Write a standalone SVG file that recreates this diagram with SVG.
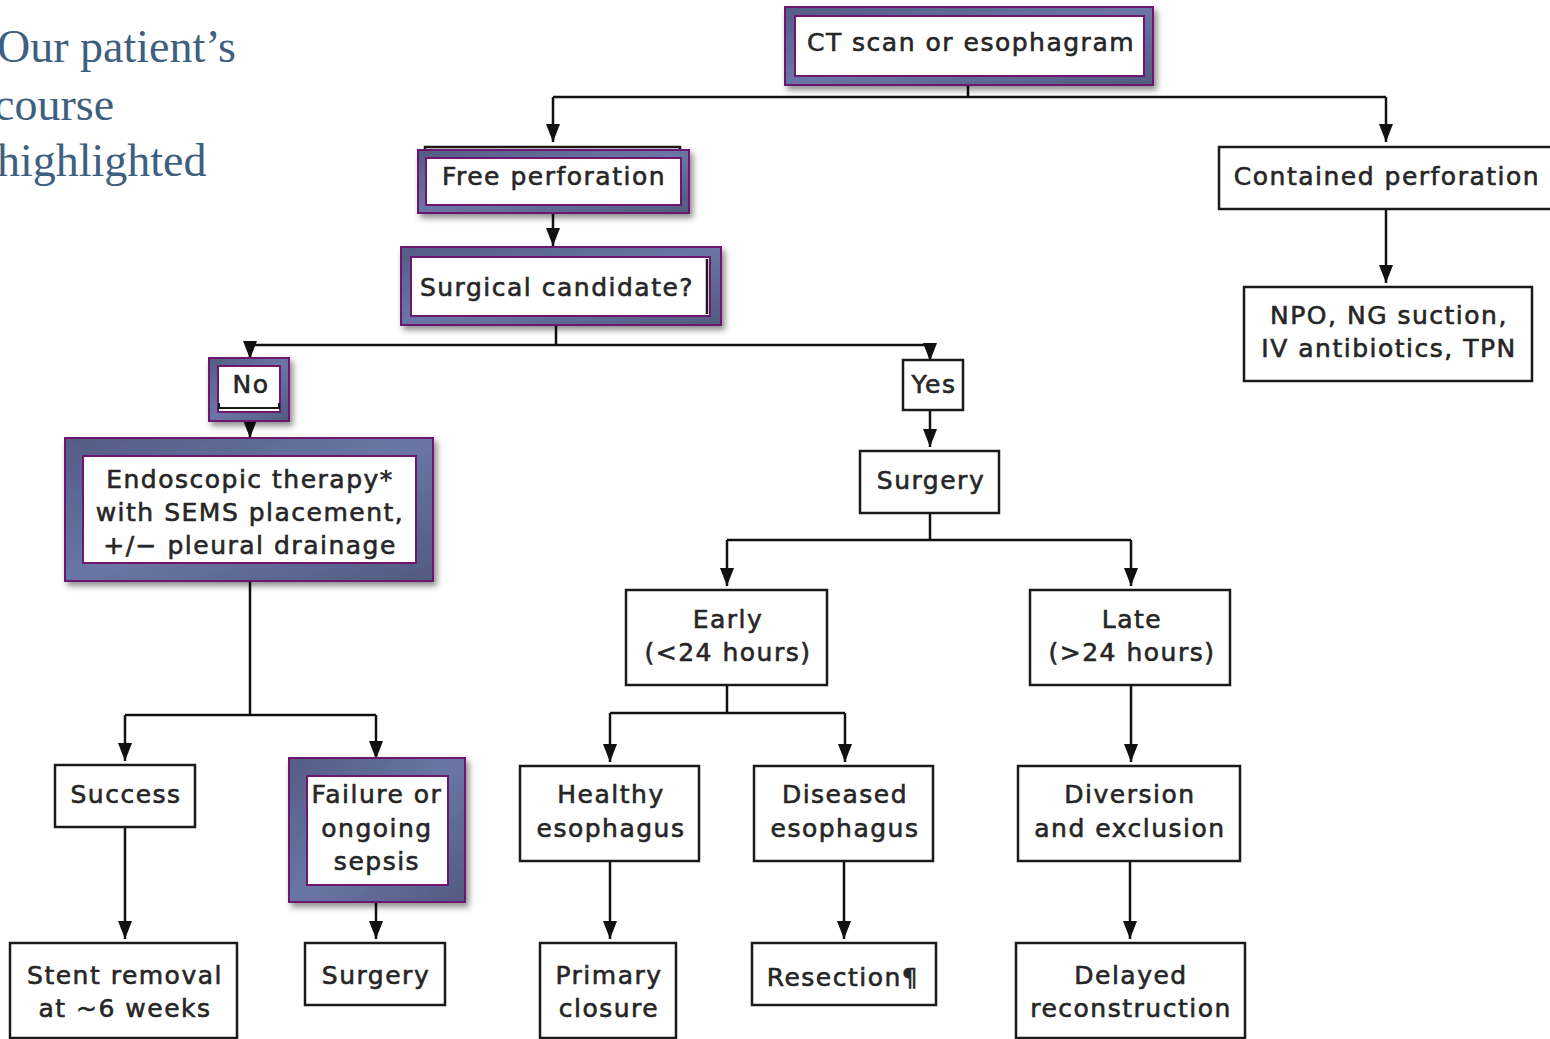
<svg xmlns="http://www.w3.org/2000/svg" width="1550" height="1039" viewBox="0 0 1550 1039">
<defs>
<linearGradient id="fr" x1="0" y1="0" x2="1" y2="1">
<stop offset="0" stop-color="#545c84"/>
<stop offset="0.5" stop-color="#6a76a6"/>
<stop offset="1" stop-color="#525a80"/>
</linearGradient>
<filter id="sh" x="-10%" y="-10%" width="125%" height="130%">
<feDropShadow dx="3" dy="4" stdDeviation="3" flood-color="#000" flood-opacity="0.45"/>
</filter>
<marker id="ad" viewBox="0 0 18 14" refX="18" refY="7" markerWidth="18" markerHeight="14" markerUnits="userSpaceOnUse" orient="auto">
<path d="M0,0 L18,7 L0,14 Z" fill="#111"/>
</marker>
</defs>
<style>
.t{font-family:"DejaVu Sans",Verdana,sans-serif;font-size:25px;letter-spacing:1.5px;fill:#262626;stroke:#262626;stroke-width:0.6;text-anchor:middle}
.b{fill:#fff;stroke:#1a1a1a;stroke-width:2.5}
.fr{fill:url(#fr);stroke:#6e1670;stroke-width:2;filter:url(#sh)}
.in{fill:#fff;stroke:#6e1670;stroke-width:2}
.c{fill:none;stroke:#111;stroke-width:2.5}
.ca{fill:none;stroke:#111;stroke-width:2.5;marker-end:url(#ad)}
.title{font-family:"Liberation Serif","Times New Roman",serif;font-size:46px;fill:#3e5f80}
</style>
<rect width="1550" height="1039" fill="#fff"/>

<g id="title">
<text class="title" x="-3" y="62">Our patient’s</text>
<text class="title" x="-6" y="120">course</text>
<text class="title" x="-3" y="176">highlighted</text>
</g>

<g id="connectors">
<path class="c" d="M968,86 V97 M553,97 H1386"/>
<path class="ca" d="M553,97 V142"/>
<path class="ca" d="M1386,97 V142"/>
<path class="ca" d="M553,214 V246"/>
<path class="c" d="M556,326 V345 M250,345 H930"/>
<path class="ca" d="M250,345 V359"/>
<path class="ca" d="M930,345 V361"/>
<path class="ca" d="M250,422 V438"/>
<path class="ca" d="M930,410 V447"/>
<path class="c" d="M250,582 V715 M125,715 H376"/>
<path class="ca" d="M125,715 V761"/>
<path class="ca" d="M376,715 V759"/>
<path class="ca" d="M125,827 V939"/>
<path class="ca" d="M376,903 V939"/>
<path class="c" d="M930,513 V540 M727,540 H1131"/>
<path class="ca" d="M727,540 V586"/>
<path class="ca" d="M1131,540 V586"/>
<path class="c" d="M727,685 V713 M610,713 H845"/>
<path class="ca" d="M610,713 V762"/>
<path class="ca" d="M845,713 V762"/>
<path class="ca" d="M1131,685 V762"/>
<path class="ca" d="M610,861 V939"/>
<path class="ca" d="M844,861 V939"/>
<path class="ca" d="M1130,861 V939"/>
<path class="ca" d="M1386,209 V283"/>
</g>

<g id="ct">
<rect class="fr" x="785" y="7" width="368" height="78"/>
<rect class="in" x="795" y="16" width="349" height="60"/>
<text class="t" x="971" y="51">CT scan or esophagram</text>
</g>

<g id="free">
<rect class="b" x="425" y="147" width="255" height="60"/>
<rect class="fr" x="418" y="150" width="271" height="63"/>
<rect class="in" x="426" y="158" width="255" height="47"/>
<text class="t" x="554" y="185">Free perforation</text>
</g>

<g id="surgical">
<rect class="fr" x="401" y="247" width="320" height="78"/>
<rect class="in" x="411" y="257" width="299" height="59"/>
<path d="M707,259 V314" stroke="#1a1a1a" stroke-width="2.5"/>
<text class="t" x="557" y="296">Surgical candidate?</text>
</g>

<g id="no">
<rect class="fr" x="209" y="358" width="80" height="63"/>
<rect class="in" x="218" y="366" width="62" height="46"/>
<path d="M219,403 V408 H279 V403" fill="none" stroke="#1a1a1a" stroke-width="2"/>
<text class="t" x="251" y="393">No</text>
</g>

<g id="endo">
<rect class="fr" x="65" y="438" width="368" height="143"/>
<rect class="in" x="83" y="456" width="333" height="107"/>
<text class="t" x="250" y="488">Endoscopic therapy*</text>
<text class="t" x="250" y="521">with SEMS placement,</text>
<text class="t" x="250" y="554">+/− pleural drainage</text>
</g>

<g id="success">
<rect class="b" x="55" y="765" width="140" height="62"/>
<text class="t" x="126" y="803">Success</text>
</g>

<g id="failure">
<rect class="fr" x="289" y="758" width="176" height="144"/>
<rect class="in" x="307" y="776" width="141" height="109"/>
<text class="t" x="377" y="803">Failure or</text>
<text class="t" x="377" y="837">ongoing</text>
<text class="t" x="377" y="870">sepsis</text>
</g>

<g id="stent">
<rect class="b" x="10" y="943" width="227" height="95"/>
<text class="t" x="125" y="984">Stent removal</text>
<text class="t" x="125" y="1017">at ~6 weeks</text>
</g>

<g id="surgery-left">
<rect class="b" x="305" y="943" width="140" height="62"/>
<text class="t" x="376" y="984">Surgery</text>
</g>

<g id="yes">
<rect class="b" x="903" y="360" width="60" height="50"/>
<text class="t" x="934" y="393">Yes</text>
</g>

<g id="surgery-mid">
<rect class="b" x="860" y="451" width="139" height="62"/>
<text class="t" x="931" y="489">Surgery</text>
</g>

<g id="early">
<rect class="b" x="626" y="590" width="201" height="95"/>
<text class="t" x="728" y="628">Early</text>
<text class="t" x="728" y="661">(&lt;24 hours)</text>
</g>

<g id="late">
<rect class="b" x="1030" y="590" width="200" height="95"/>
<text class="t" x="1132" y="628">Late</text>
<text class="t" x="1132" y="661">(&gt;24 hours)</text>
</g>

<g id="healthy">
<rect class="b" x="520" y="766" width="179" height="95"/>
<text class="t" x="611" y="803">Healthy</text>
<text class="t" x="611" y="837">esophagus</text>
</g>

<g id="diseased">
<rect class="b" x="754" y="766" width="179" height="95"/>
<text class="t" x="845" y="803">Diseased</text>
<text class="t" x="845" y="837">esophagus</text>
</g>

<g id="diversion">
<rect class="b" x="1018" y="766" width="222" height="95"/>
<text class="t" x="1130" y="803">Diversion</text>
<text class="t" x="1130" y="837">and exclusion</text>
</g>

<g id="primary">
<rect class="b" x="540" y="943" width="136" height="95"/>
<text class="t" x="609" y="984">Primary</text>
<text class="t" x="609" y="1017">closure</text>
</g>

<g id="resection">
<rect class="b" x="752" y="943" width="184" height="62"/>
<text class="t" x="843" y="986">Resection¶</text>
</g>

<g id="delayed">
<rect class="b" x="1016" y="943" width="229" height="95"/>
<text class="t" x="1131" y="984">Delayed</text>
<text class="t" x="1131" y="1017">reconstruction</text>
</g>

<g id="contained">
<rect class="b" x="1219" y="147" width="335" height="62"/>
<text class="t" x="1387" y="185">Contained perforation</text>
</g>

<g id="npo">
<rect class="b" x="1244" y="287" width="288" height="94"/>
<text class="t" x="1389" y="324">NPO, NG suction,</text>
<text class="t" x="1389" y="357">IV antibiotics, TPN</text>
</g>
</svg>
